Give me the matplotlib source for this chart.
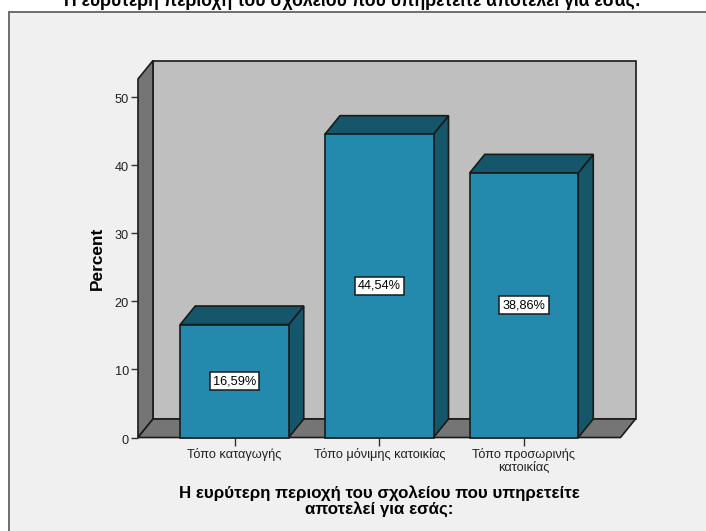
#!/usr/bin/env python3
"""3D-style bar chart of percent by area type, drawn with plain 2D polygons."""

import matplotlib
matplotlib.use("Agg")
import matplotlib.pyplot as plt
from matplotlib.lines import Line2D
from matplotlib.patches import Rectangle
from matplotlib.transforms import ScaledTranslation

plt.rcParams["font.family"] = ["Liberation Sans", "DejaVu Sans"]

W, H = 706, 531

categories = ["Τόπο καταγωγής", "Τόπο μόνιμης κατοικίας", "Τόπο προσωρινής\nκατοικίας"]
percents = [16.59, 44.54, 38.86]
value_labels = ["16,59%", "44,54%", "38,86%"]
y_ticks = [0, 10, 20, 30, 40, 50]
title = "Η ευρύτερη περιοχή του σχολείου που υπηρετείτε αποτελεί για εσάς:"
x_title = "Η ευρύτερη περιοχή του σχολείου που υπηρετείτε\nαποτελεί για εσάς:"

BG = "#f0f0f0"
WALL = "#bfbfbf"
SIDE = "#757575"
FRONT = "#248aad"
DARK = "#16566b"
EDGE = "#1a1a1a"

# axes box in pixels, front plane of the box
left, right, bottom, top = 138.0, 620.5, 437.5, 79.0
px_per_cat = 144.75
px_per_unit = 6.81
cat0_px = 234.5

fig = plt.figure(figsize=(W / 100, H / 100), dpi=100, facecolor="white")

# chart frame, only top and left edges are inside the image
fig.add_artist(Rectangle((9 / W, 0), 1 - 9 / W, 1 - 12 / H, transform=fig.transFigure,
                         facecolor=BG, edgecolor="none", zorder=-5))
frame_kw = dict(transform=fig.transFigure, color="#6e6e6e", lw=1.4, zorder=-4)
fig.add_artist(Line2D([9 / W, 1], [1 - 12 / H, 1 - 12 / H], **frame_kw))
fig.add_artist(Line2D([9 / W, 9 / W], [0, 1 - 12 / H], **frame_kw))

ax = fig.add_axes([left / W, 1 - bottom / H, (right - left) / W, (bottom - top) / H])
ax.set_xlim((left - cat0_px) / px_per_cat, (right - cat0_px) / px_per_cat)
ax.set_ylim(0, (bottom - top) / px_per_unit)
ax.patch.set_visible(False)
for s in ax.spines.values():
    s.set_visible(False)

# depth of the box in data units
dx = 15.0 / px_per_cat
dy = 18.5 / px_per_unit
x0, x1 = ax.get_xlim()
y1 = ax.get_ylim()[1]


def poly(xs, ys, color, z, lw=1.2):
    ax.fill(xs, ys, facecolor=color, edgecolor=EDGE, linewidth=lw, zorder=z,
            clip_on=False, joinstyle="miter")


# back wall, left wall, floor
poly([x0 + dx, x1 + dx, x1 + dx, x0 + dx], [dy, dy, y1 + dy, y1 + dy], WALL, 1)
poly([x0, x0 + dx, x0 + dx, x0], [0, dy, y1 + dy, y1], SIDE, 2)
poly([x0, x1, x1 + dx, x0 + dx], [0, 0, dy, dy], SIDE, 2)

# bars: right side, top, then the front face
width = 108.5 / px_per_cat
for i, (v, lab) in enumerate(zip(percents, value_labels)):
    a, b = i - width / 2, i + width / 2
    poly([b, b + dx, b + dx, b], [0, dy, v + dy, v], DARK, 3 + i)
    poly([a, b, b + dx, a + dx], [v, v, v + dy, v + dy], DARK, 3 + i)
    poly([a, b, b, a], [0, 0, v, v], FRONT, 3 + i)
    ax.text(i, v / 2, lab, ha="center", va="center", fontsize=9.2, color="black", zorder=10,
            bbox=dict(boxstyle="square,pad=0.25", facecolor="white", edgecolor=EDGE, linewidth=1.1))

ax.set_yticks(y_ticks)
ax.set_xticks(range(len(categories)))
ax.set_xticklabels(categories, linespacing=1.05)
ax.tick_params(axis="y", length=5.4, width=1.0, color="#333333", labelsize=9.2,
               labelcolor="#222222", pad=1.2)
ax.tick_params(axis="x", length=5.4, width=1.0, color="#333333", labelsize=9.2,
               labelcolor="#222222", pad=2)

# y tick labels sit slightly below their ticks
shift = ScaledTranslation(0, -1.5 / 100, fig.dpi_scale_trans)
for t in ax.get_yticklabels():
    t.set_transform(t.get_transform() + shift)

fig.text(97 / W, 1 - 258 / H, "Percent", rotation=90, ha="center", va="center",
         fontsize=12.4, fontweight="bold", color="black")
fig.text(379.5 / W, 1 - 501.5 / H, x_title, ha="center", va="center", fontsize=12.2,
         fontweight="bold", color="black", linespacing=1.03)
fig.text(352 / W, 1 - 0.5 / H, title, ha="center", va="center", fontsize=12.7,
         fontweight="bold", color="black")

plt.savefig("out.png", dpi=100)
plt.close()
